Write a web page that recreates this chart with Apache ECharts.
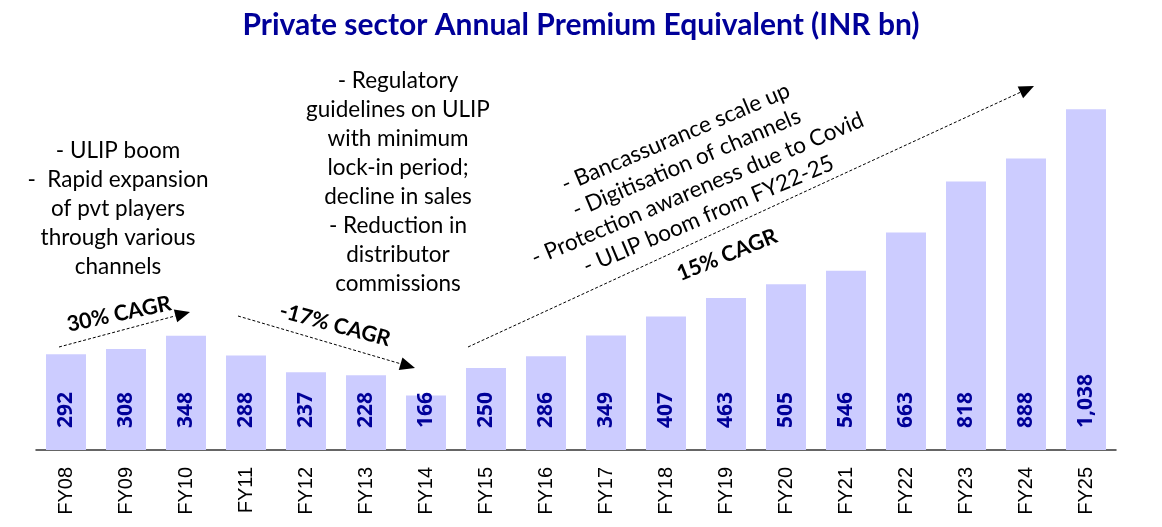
<!DOCTYPE html>
<html>
<head>
<meta charset="utf-8">
<script src="https://cdn.jsdelivr.net/npm/echarts@6/dist/echarts.min.js"></script>
<style>
  html, body { margin: 0; padding: 0; background: #fff; }
  #chart { width: 1162px; height: 527px; }
</style>
</head>
<body>
<div id="chart"></div>
<script>
// data
const years = ['FY08', 'FY09', 'FY10', 'FY11', 'FY12', 'FY13', 'FY14', 'FY15', 'FY16',
  'FY17', 'FY18', 'FY19', 'FY20', 'FY21', 'FY22', 'FY23', 'FY24', 'FY25']
const ape = [292, 308, 348, 288, 237, 228, 166, 250, 286, 349, 407, 463, 505, 546, 663, 818, 888, 1038]

const noteLeft = ['- ULIP boom', '-  Rapid expansion', 'of pvt players', 'through various', 'channels']
const noteMid = ['- Regulatory', 'guidelines on ULIP', 'with minimum', 'lock-in period;',
  'decline in sales', '- Reduction in', 'distributor', 'commissions']
const noteRight = ['- Bancassurance scale up', '- Digitisation of channels',
  '- Protection awareness due to Covid', '- ULIP boom from FY22-25']

const FONT = 'Lato, "Open Sans", sans-serif'
const deg = d => d * Math.PI / 180

// dashed arrow = line + filled triangle head
function arrow(x1, y1, x2, y2) {
  const a = Math.atan2(y2 - y1, x2 - x1)
  const len = 15, half = 6.5
  const bx = x2 - len * Math.cos(a), by = y2 - len * Math.sin(a)
  const px = -Math.sin(a) * half, py = Math.cos(a) * half
  return [
    {
      type: 'line',
      shape: { x1: x1, y1: y1, x2: bx, y2: by },
      style: { stroke: '#000', lineWidth: 1, lineDash: [3, 2] }
    },
    {
      type: 'polygon',
      shape: { points: [[x2, y2], [bx + px, by + py], [bx - px, by - py]] },
      style: { fill: '#000' }
    }
  ]
}

function note(lines, x, y, rot, lh) {
  return {
    type: 'text',
    x: x, y: y,
    rotation: rot || 0,
    style: {
      text: lines.join('\n'),
      x: 0, y: 0,
      align: 'center', verticalAlign: 'middle',
      lineHeight: lh || 29,
      font: '22.5px ' + FONT,
      fill: '#000'
    }
  }
}

function cagr(txt, x, y, rot) {
  return {
    type: 'text',
    x: x, y: y,
    rotation: deg(rot),
    style: {
      text: txt, x: 0, y: 0,
      align: 'center', verticalAlign: 'middle',
      font: 'bold 21.5px ' + FONT,
      fill: '#000'
    }
  }
}

const chart = echarts.init(document.getElementById('chart'))

const option = {
  animation: false,
  title: {
    text: 'Private sector Annual Premium Equivalent (INR bn)',
    left: 'center',
    top: 5,
    textStyle: { color: '#000099', fontSize: 30, fontWeight: 'bold', fontFamily: FONT }
  },
  grid: { left: 36, right: 46, top: 89, bottom: 77 },
  xAxis: {
    type: 'category',
    data: years,
    axisLine: { lineStyle: { color: '#333', width: 1.5 } },
    axisTick: { show: false },
    axisLabel: {
      rotate: 90,
      margin: 17,
      color: '#000',
      fontSize: 20,
      fontFamily: '"Liberation Sans", Arial, sans-serif'
    }
  },
  yAxis: {
    type: 'value',
    min: 0,
    max: 1100,
    show: false,
    splitLine: { show: false }
  },
  series: [
    {
      type: 'bar',
      data: ape,
      barCategoryGap: '33.3%',
      itemStyle: { color: '#ccccff' },
      label: {
        show: true,
        position: 'insideBottom',
        rotate: 90,
        align: 'left',
        verticalAlign: 'middle',
        distance: 22,
        color: '#000099',
        fontSize: 21,
        fontWeight: 'bold',
        fontFamily: '"Noto Sans", sans-serif',
        formatter: p => p.value.toLocaleString('en-US')
      }
    }
  ],
  graphic: [
    note(noteLeft, 118, 209),
    note(noteMid, 398, 182),
    note(noteRight, 692, 176, deg(23), 28),
    cagr('30% CAGR', 119, 314, 12),
    cagr('-17% CAGR', 335, 325, -15),
    cagr('15% CAGR', 727, 255, 22)
  ].concat(arrow(59, 347, 190, 312), arrow(238, 316, 415, 368), arrow(468, 347, 1034, 86))
}

chart.setOption(option)
</script>
</body>
</html>
